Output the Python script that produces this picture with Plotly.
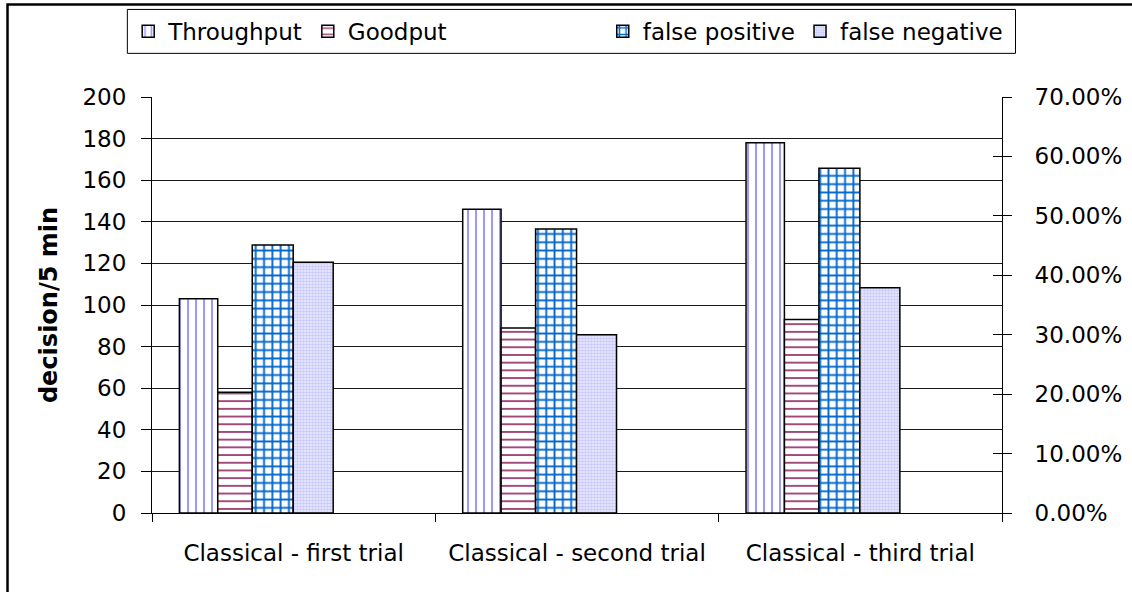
import plotly.graph_objects as go

# ---------------- data ----------------
categories = ["Classical - first trial", "Classical - second trial", "Classical - third trial"]
throughput = [103, 146, 178]          # decision/5 min (left axis)
goodput = [58, 89, 93]                # decision/5 min (left axis)
false_positive = [0.451, 0.478, 0.580]  # fraction (right axis)
false_negative = [0.422, 0.300, 0.379]  # fraction (right axis)
left_ticks = [0, 20, 40, 60, 80, 100, 120, 140, 160, 180, 200]
right_ticks = [0.0, 0.1, 0.2, 0.3, 0.4, 0.5, 0.6, 0.7]

FONT = "DejaVu Sans"
FS = 23

fig = go.Figure()

outline = dict(color="black", width=1.5)

fig.add_trace(go.Bar(
    x=categories, y=throughput, name="Throughput", yaxis="y",
    offset=-0.4034, width=0.1354, legend="legend",
    marker=dict(color="white", line=outline,
                pattern=dict(shape="|", fgcolor="#9999ff", bgcolor="white", fgopacity=1,
                             size=8, solidity=0.25)),
))
fig.add_trace(go.Bar(
    x=categories, y=goodput, name="Goodput", yaxis="y",
    offset=-0.2679, width=0.1217, legend="legend",
    marker=dict(color="white", line=outline,
                pattern=dict(shape="-", fgcolor="#a3497a", bgcolor="white", fgopacity=1,
                             size=7.7, solidity=0.25)),
))
fig.add_trace(go.Bar(
    x=categories, y=false_positive, name="false positive", yaxis="y2",
    offset=-0.1462, width=0.1446, legend="legend2",
    marker=dict(color="white", line=outline,
                pattern=dict(shape="+", fgcolor="#0066cc", bgcolor="white", fgopacity=1,
                             size=8.3, solidity=0.4)),
))
fig.add_trace(go.Bar(
    x=categories, y=false_negative, name="false negative", yaxis="y2",
    offset=-0.0016, width=0.1411, legend="legend2",
    marker=dict(color="#ececff", line=outline,
                pattern=dict(shape=".", fgcolor="#c8c8fa", bgcolor="#f0f0ff", fgopacity=1,
                             size=3, solidity=0.6)),
))
# helper trace so the inner half of the right-axis cross ticks is drawn
fig.add_trace(go.Scatter(x=[], y=[], yaxis="y3", showlegend=False, hoverinfo="skip"))

fig.update_layout(
    width=1132, height=592,
    margin=dict(l=152, r=130, t=97, b=79, autoexpand=False),
    paper_bgcolor="white", plot_bgcolor="white",
    font=dict(family=FONT, size=FS, color="black"),
    barmode="overlay",
    showlegend=True,
    xaxis=dict(
        type="category", categoryorder="array", categoryarray=categories,
        range=[-0.5, 2.5],
        showline=True, linecolor="black", linewidth=1,
        ticks="outside", tickson="boundaries", ticklen=8, tickcolor="black", tickwidth=1,
        showgrid=False, zeroline=False,
        tickfont=dict(family=FONT, size=FS, color="black"),
        ticklabelstandoff=19,
    ),
    yaxis=dict(
        range=[0, 200], tickvals=left_ticks,
        showline=True, linecolor="black", linewidth=1,
        ticks="outside", ticklen=10, tickcolor="black", tickwidth=1,
        showgrid=True, gridcolor="#1a1a1a", gridwidth=1,
        zeroline=False,
        tickfont=dict(family=FONT, size=FS, color="black"),
        title=dict(text="<b>decision/5 min</b>", font=dict(family=FONT, size=24, color="black"),
                   standoff=18),
        ticklabelstandoff=10,
    ),
    yaxis2=dict(
        overlaying="y", side="right", anchor="x",
        range=[0, 0.7], tickvals=right_ticks, tickformat=".2%",
        showline=True, linecolor="black", linewidth=1,
        ticks="outside", ticklen=9, tickcolor="black", tickwidth=1,
        showgrid=False, zeroline=False,
        tickfont=dict(family=FONT, size=FS, color="black"),
        ticklabelstandoff=18,
    ),
    yaxis3=dict(
        overlaying="y", side="right", anchor="x",
        range=[0, 0.7], tickvals=right_ticks,
        showline=False, ticks="inside", ticklen=9, tickcolor="black", tickwidth=1,
        showticklabels=False, showgrid=False, zeroline=False,
    ),
    legend=dict(
        orientation="h", x=-0.028, xanchor="left", y=1.158, yanchor="middle",
        font=dict(family=FONT, size=FS, color="black"),
        bgcolor="rgba(0,0,0,0)", borderwidth=0, traceorder="normal",
    ),
    legend2=dict(
        orientation="h", x=1.0068, xanchor="right", y=1.158, yanchor="middle",
        font=dict(family=FONT, size=FS, color="black"),
        bgcolor="rgba(0,0,0,0)", borderwidth=0, traceorder="normal",
    ),
    shapes=[
        # legend frame
        dict(type="rect", xref="paper", yref="paper",
             x0=-0.0290, x1=1.0159, y0=1.1049, y1=1.2105,
             line=dict(color="black", width=1), fillcolor="rgba(0,0,0,0)", layer="below"),
        # outer chart border
        dict(type="rect", xref="paper", yref="paper",
             x0=-0.1700, x1=1.30, y0=-0.40, y1=1.2225,
             line=dict(color="black", width=2.5), fillcolor="rgba(0,0,0,0)", layer="below"),
    ],
)

fig.write_html("out.html", config={"displayModeBar": False},
               post_script="document.body.style.margin='0';")
